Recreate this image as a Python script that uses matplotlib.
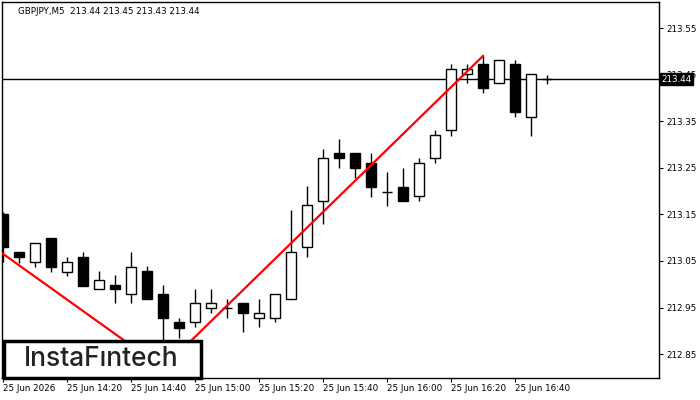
import matplotlib
matplotlib.use("Agg")
from matplotlib import pyplot as plt
from matplotlib.patches import Rectangle

# bar data, M5 candles starting 25 Jun 14:00
opens = [213.151, 213.069, 213.048, 213.099, 213.026, 213.059, 212.990, 212.999, 212.979, 213.029,
         212.979, 212.919, 212.919, 212.950, 212.949, 212.960, 212.928, 212.928, 212.968, 213.080,
         213.179, 213.282, 213.282, 213.260, 213.198, 213.209, 213.190, 213.271, 213.331, 213.451,
         213.473, 213.432, 213.473, 213.359, 213.440]
highs = [213.155, 213.069, 213.089, 213.099, 213.059, 213.069, 213.029, 213.020, 213.069, 213.039,
         212.999, 212.928, 212.990, 212.990, 212.968, 212.960, 212.968, 212.979, 213.159, 213.211,
         213.290, 213.312, 213.282, 213.282, 213.241, 213.250, 213.271, 213.331, 213.473, 213.473,
         213.490, 213.481, 213.481, 213.451, 213.450]
lows = [213.048, 213.046, 213.037, 213.026, 213.018, 212.996, 212.990, 212.960, 212.960, 212.968,
        212.820, 212.885, 212.908, 212.938, 212.928, 212.898, 212.908, 212.919, 212.968, 213.059,
        213.129, 213.250, 213.228, 213.187, 213.168, 213.179, 213.179, 213.260, 213.318, 213.432,
        213.410, 213.432, 213.359, 213.318, 213.430]
closes = [213.080, 213.058, 213.089, 213.037, 213.048, 212.996, 213.009, 212.990, 213.037, 212.968,
          212.928, 212.906, 212.960, 212.960, 212.949, 212.938, 212.938, 212.979, 213.069, 213.170,
          213.271, 213.271, 213.250, 213.209, 213.198, 213.179, 213.260, 213.320, 213.462, 213.462,
          213.421, 213.481, 213.370, 213.451, 213.440]

tick_bars = [0, 4, 8, 12, 16, 20, 24, 28, 32]
tick_labels = ["25 Jun 2026", "25 Jun 14:20", "25 Jun 14:40", "25 Jun 15:00", "25 Jun 15:20",
               "25 Jun 15:40", "25 Jun 16:00", "25 Jun 16:20", "25 Jun 16:40"]
price_ticks = [212.85, 212.95, 213.05, 213.15, 213.25, 213.35, 213.45, 213.55]

# pattern lines (bar index, price)
line_down = ([-1, 10], [213.09, 212.82])
line_up = ([10, 30], [212.82, 213.49])
last_price = 213.44
title = "GBPJPY,M5  213.44 213.45 213.43 213.44"

plt.rcParams["font.family"] = ["DejaVu Sans"]
fig = plt.figure(figsize=(7, 4), dpi=100)
ax = fig.add_axes([2 / 700, 22 / 400, 657 / 700, 376 / 400])

xs = list(range(len(opens)))
ax.vlines(xs, lows, highs, color="black", lw=1.0, zorder=2)
for x, o, c in zip(xs, opens, closes):
    fc = "white" if c >= o else "black"
    ax.add_patch(Rectangle((x - 0.33, min(o, c)), 0.66, abs(c - o),
                           facecolor=fc, edgecolor="black", lw=1.0, zorder=3))

ax.axhline(last_price, color="black", lw=1, zorder=1)
ax.plot(*line_down, color="red", lw=1.6, zorder=4)
ax.plot(*line_up, color="red", lw=1.6, zorder=4)

ax.set_xlim(-0.06, 41.0)
ax.set_ylim(212.7989, 213.6058)

ax.set_xticks(tick_bars)
ax.set_xticklabels(tick_labels, ha="left")
ax.yaxis.tick_right()
ax.set_yticks(price_ticks)
ax.set_yticklabels([f"{p:.2f}" for p in price_ticks])
ax.tick_params(axis="both", labelsize=6.3, length=3, width=0.8, pad=2, direction="out")
ax.tick_params(axis="x", pad=1.5)
for s in ax.spines.values():
    s.set_linewidth(1)

# current price tag
ax.text(1.003, (last_price - 212.7989) / (213.6058 - 212.7989), f"{last_price:.2f}",
        transform=ax.transAxes, ha="left", va="center", fontsize=6.3, color="white",
        bbox=dict(boxstyle="square,pad=0.15", fc="black", ec="black"), zorder=10, clip_on=False)

fig.text(18 / 700, 1 - 11 / 400, title, fontsize=6.3, ha="left", va="center")

# logo box
fig.patches.append(Rectangle((4 / 700, 22 / 400), 197 / 700, 37 / 400, transform=fig.transFigure,
                             facecolor="white", edgecolor="black", lw=2.5, zorder=20))
fig.text(101 / 700, 1 - 359 / 400, "InstaF\u0131ntech", fontsize=19, color="#222222",
         family=["Inter", "DejaVu Sans"], weight="medium", ha="center", va="center", zorder=21)

fig.savefig("out.png", dpi=100)
